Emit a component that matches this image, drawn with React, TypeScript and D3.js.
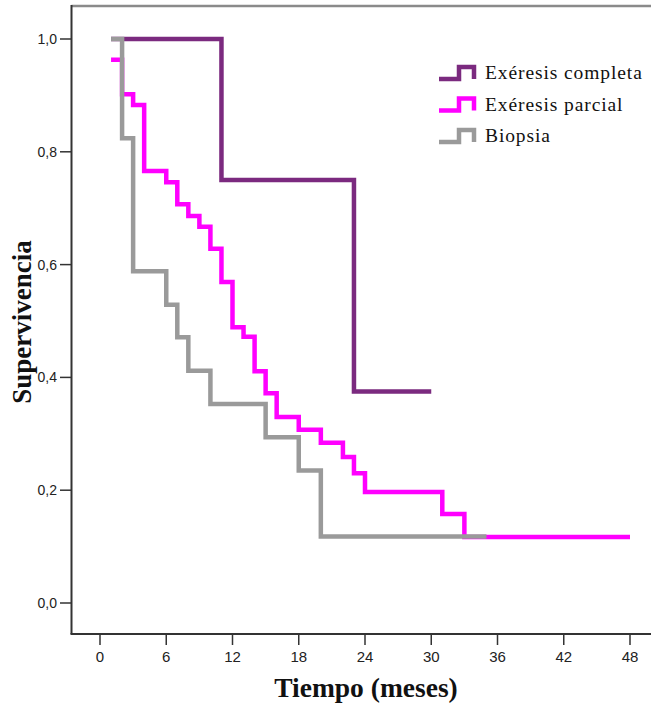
import React from "react";
import * as d3 from "d3";

// Kaplan-Meier step data: [time (months), survival after that time]
const completaTimes = [1, 11, 23, 30];
const completaValues = [1.0, 0.75, 0.375, 0.375];

const parcialTimes = [1, 2, 3, 4, 6, 7, 8, 9, 10, 11, 12, 13, 14, 15, 16, 18, 20, 22, 23, 24, 31, 33, 48];
const parcialValues = [0.963, 0.902, 0.883, 0.766, 0.746, 0.707, 0.686, 0.667, 0.628, 0.569, 0.489, 0.472, 0.411, 0.372, 0.33, 0.307, 0.284, 0.259, 0.23, 0.197, 0.158, 0.117, 0.117];

const biopsiaTimes = [1, 2, 3, 6, 7, 8, 10, 15, 18, 20, 35];
const biopsiaValues = [1.0, 0.824, 0.588, 0.529, 0.471, 0.412, 0.353, 0.294, 0.235, 0.118, 0.118];

const seriesNames = ["Exéresis completa", "Exéresis parcial", "Biopsia"];
const seriesColors = ["#7b2a7f", "#ff00ff", "#9a9a9a"];

const xTicks = [0, 6, 12, 18, 24, 30, 36, 42, 48];
const yTicks = [0, 0.2, 0.4, 0.6, 0.8, 1.0];

const W = 651;
const H = 706;

export default function App() {
  const x = d3.scaleLinear().domain([0, 48]).range([100, 630]);
  const y = d3.scaleLinear().domain([0, 1]).range([603, 39]);

  const line = d3
    .line<[number, number]>()
    .x((d) => x(d[0]))
    .y((d) => y(d[1]))
    .curve(d3.curveStepAfter);

  const series = [
    { times: completaTimes, values: completaValues },
    { times: parcialTimes, values: parcialValues },
    { times: biopsiaTimes, values: biopsiaValues },
  ];

  const left = 71.5;
  const bottom = 634;
  const top = 6;
  const fmt = (v: number) => v.toFixed(1).replace(".", ",");

  return (
    <svg
      width={W}
      height={H}
      style={{ position: "absolute", left: 0, top: 0, background: "#fff" }}
    >
      <rect x={0} y={0} width={W} height={H} fill="#fff" />
      {/* frame */}
      <line x1={left} x2={W} y1={top} y2={top} stroke="#8a8a8a" strokeWidth={2.5} />
      <line x1={left} x2={left} y1={top - 1} y2={bottom} stroke="#333" strokeWidth={2} />
      <line x1={left - 1} x2={W} y1={bottom} y2={bottom} stroke="#333" strokeWidth={2} />

      {/* y ticks */}
      {yTicks.map((t) => (
        <g key={"y" + t}>
          <line x1={60} x2={left} y1={y(t)} y2={y(t)} stroke="#333" strokeWidth={1.5} />
          <text
            x={57}
            y={y(t)}
            dy="0.35em"
            textAnchor="end"
            fontFamily="Liberation Sans, Arial, sans-serif"
            fontSize={14}
            fill="#222"
          >
            {fmt(t)}
          </text>
        </g>
      ))}

      {/* x ticks */}
      {xTicks.map((t) => (
        <g key={"x" + t}>
          <line x1={x(t)} x2={x(t)} y1={bottom} y2={645} stroke="#333" strokeWidth={1.5} />
          <text
            x={x(t)}
            y={662}
            textAnchor="middle"
            fontFamily="Liberation Sans, Arial, sans-serif"
            fontSize={15}
            fill="#222"
          >
            {t}
          </text>
        </g>
      ))}

      {/* curves */}
      {series.map((s, i) => {
        const pts: [number, number][] = s.times.map((t, j) => [t, s.values[j]]);
        return (
          <path
            key={"s" + i}
            d={line(pts) || ""}
            fill="none"
            stroke={seriesColors[i]}
            strokeWidth={4.5}
            strokeLinejoin="miter"
          />
        );
      })}

      {/* legend */}
      {seriesNames.map((name, i) => {
        const cy = 73 + i * 31.5;
        return (
          <g key={"l" + i}>
            <path
              d={`M439,${cy + 6} H459 V${cy - 6} H474 V${cy + 6}`}
              fill="none"
              stroke={seriesColors[i]}
              strokeWidth={4.5}
            />
            <text
              x={485}
              y={cy + 6}
              fontFamily="Liberation Serif, Times New Roman, serif"
              fontSize={19.5}
              letterSpacing={0.9}
              fill="#111"
            >
              {name}
            </text>
          </g>
        );
      })}

      {/* axis titles */}
      <text
        x={366}
        y={697}
        textAnchor="middle"
        fontFamily="Liberation Serif, Times New Roman, serif"
        fontWeight="bold"
        fontSize={27.5}
        fill="#111"
      >
        Tiempo (meses)
      </text>
      <text
        transform="translate(31,322) rotate(-90)"
        textAnchor="middle"
        fontFamily="Liberation Serif, Times New Roman, serif"
        fontWeight="bold"
        fontSize={27}
        fill="#111"
      >
        Supervivencia
      </text>
    </svg>
  );
}
